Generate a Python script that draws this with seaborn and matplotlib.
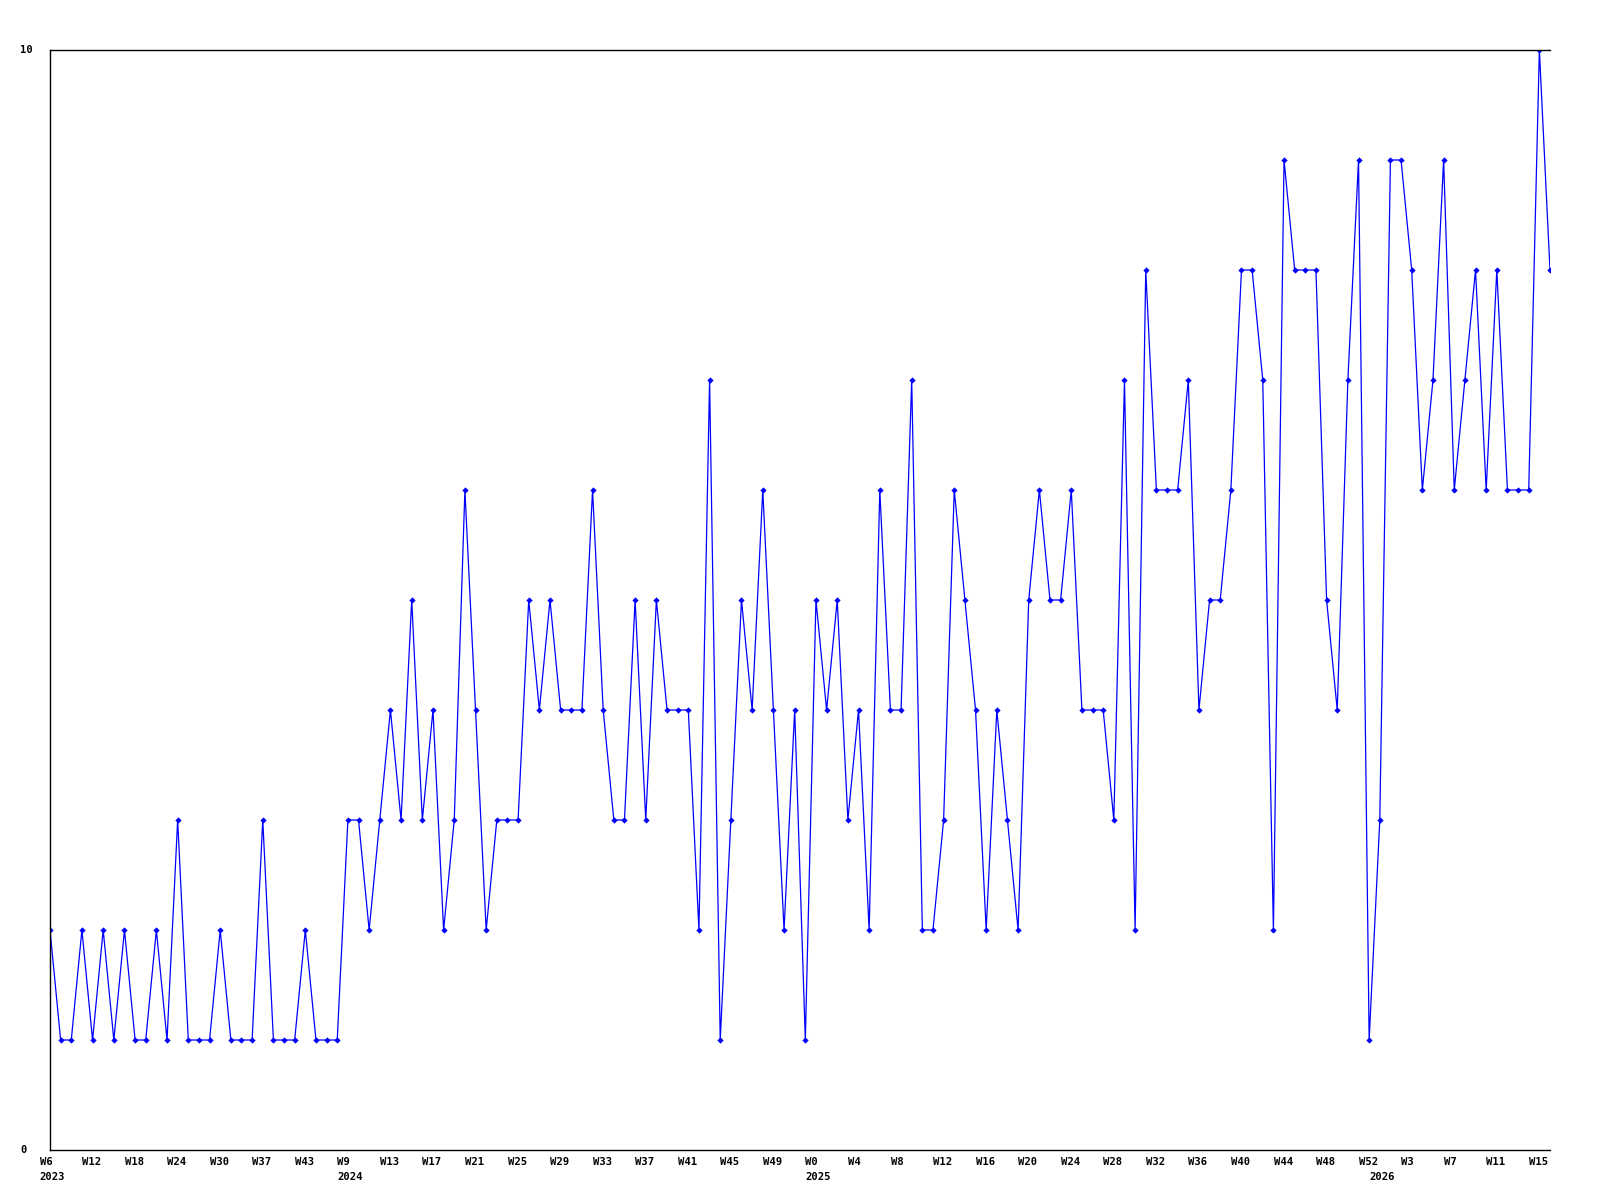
import matplotlib
matplotlib.use("Agg")
import matplotlib.pyplot as plt
import matplotlib.transforms as mtransforms
import seaborn as sns
import numpy as np
import pandas as pd

# ---- data ----
values = [
    2, 1, 1, 2, 1, 2, 1, 2, 1, 1, 2, 1, 3, 1, 1, 1, 2, 1, 1, 1, 3, 1, 1, 1, 2, 1, 1, 1,
    3, 3, 2, 3, 4, 3, 5, 3, 4, 2, 3, 6, 4, 2, 3, 3, 3, 5, 4, 5, 4, 4, 4, 6, 4, 3, 3, 5,
    3, 5, 4, 4, 4, 2, 7, 1, 3, 5, 4, 6, 4, 2, 4, 1, 5, 4, 5, 3, 4, 2, 6, 4, 4, 7, 2, 2, 3, 6, 5, 4, 2, 4,
    3, 2, 5, 6, 5, 5, 6, 4, 4, 4, 3, 7, 2, 8, 6, 6, 6, 7, 4, 5, 5, 6, 8, 8, 7, 2, 9, 8,
    8, 8, 5, 4, 7, 9, 1, 3, 9, 9, 8, 6, 7, 9, 6, 7, 8, 6, 8, 6, 6, 6, 10, 8,
]
week_tick_labels = [
    "W6", "W12", "W18", "W24", "W30", "W37", "W43",
    "W9", "W13", "W17", "W21", "W25", "W29", "W33", "W37", "W41", "W45", "W49",
    "W0", "W4", "W8", "W12", "W16", "W20", "W24", "W28", "W32", "W36", "W40", "W44", "W48", "W52",
    "W3", "W7", "W11", "W15",
]
tick_step = 4
year_labels = ["2023", "2024", "2025", "2026"]
year_start_index = [0, 28, 72, 125]
y_ticks = [0, 10]

# ---- build ----
idx = np.arange(len(values))
df = pd.DataFrame({"point": idx, "value": values})

sns.set_style("white")
plt.rcParams["font.family"] = ["DejaVu Sans Mono", "DejaVu Sans"]

fig = plt.figure(figsize=(16, 12), dpi=100)
ax = fig.add_axes([50 / 1600, 50 / 1200, 1500 / 1600, 1100 / 1200])

sns.lineplot(data=df, x="point", y="value", ax=ax, color="#0000ff",
             linewidth=0.9, marker="D", markersize=3.2, markeredgewidth=0,
             markerfacecolor="#0000ff")

ax.set_xlim(0, len(values) - 1)
ax.set_ylim(0, 10)
ax.set_xlabel("")
ax.set_ylabel("")

for side in ["left", "top", "bottom"]:
    ax.spines[side].set_visible(True)
    ax.spines[side].set_color("black")
    ax.spines[side].set_linewidth(1.0)
ax.spines["right"].set_visible(False)

font_kw = dict(fontsize=7.6, fontweight="bold", color="black")

# y ticks
ax.set_yticks(y_ticks)
ax.set_yticklabels([str(t) for t in y_ticks], **font_kw)
ax.tick_params(axis="y", length=0, pad=30 * 72 / 100)
for lbl in ax.get_yticklabels():
    lbl.set_ha("left")
    lbl.set_va("center")

# x ticks
tick_pos = list(range(0, len(values), tick_step))[: len(week_tick_labels)]
ax.set_xticks(tick_pos)
ax.set_xticklabels(week_tick_labels, **font_kw)
ax.tick_params(axis="x", length=0, pad=12 * 72 / 100)
shift = mtransforms.ScaledTranslation(-10.5 / 100, 0, fig.dpi_scale_trans)
for lbl in ax.get_xticklabels():
    lbl.set_ha("left")
    lbl.set_va("center")
    lbl.set_transform(lbl.get_transform() + shift)

# year labels below first point of each year
for yl, yi in zip(year_labels, year_start_index):
    ax.annotate(yl, xy=(yi, 0), xycoords=("data", "axes fraction"),
                xytext=(-10.5, -27), textcoords="offset pixels",
                ha="left", va="center", annotation_clip=False, **font_kw)

ax.grid(False)
fig.savefig("out.png", dpi=100, facecolor="white")
